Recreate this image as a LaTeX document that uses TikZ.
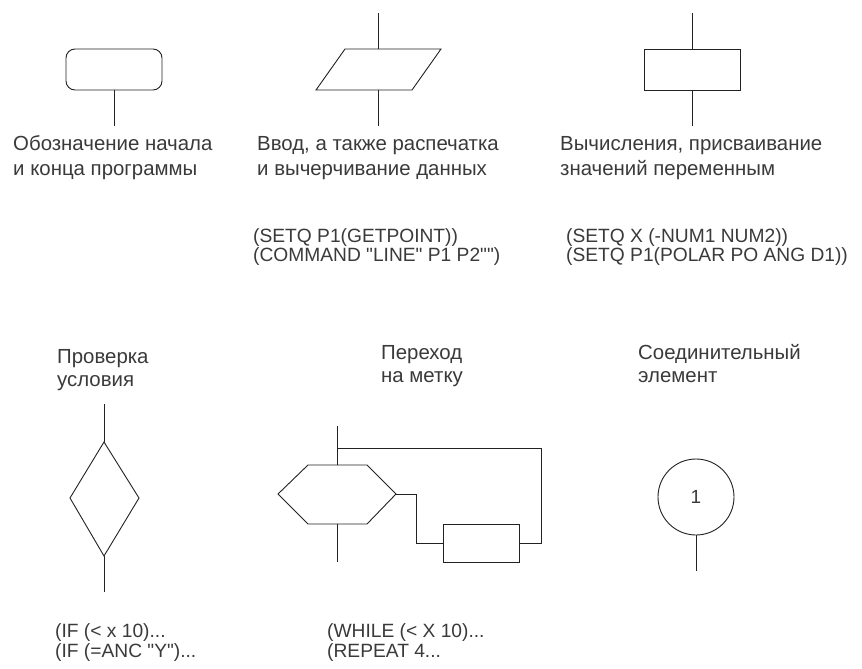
\documentclass[tikz,border=0pt]{standalone}
\usepackage{fontspec}
\setmainfont{Liberation Sans}[Ligatures=TeXOff]
\usetikzlibrary{shapes.geometric}
\definecolor{ink}{HTML}{222222}
\definecolor{txt}{HTML}{3A3A3A}
\begin{document}
\begin{tikzpicture}[x=1pt,y=-1pt,
  line/.style={draw=ink,line width=0.9pt},
  blk/.style={line,inner sep=0pt,minimum width=96pt,minimum height=41pt},
  lbl/.style={anchor=base west,inner sep=0pt,text=txt,font=\fontsize{20.4}{20.4}\selectfont},
  code/.style={anchor=base west,inner sep=0pt,text=txt,font=\fontsize{19.2}{19.2}\selectfont}]
\useasboundingbox[fill=white] (0,0) rectangle (862,669);

% --- terminator ---
\node[blk,rounded corners=9pt] (term) at (114,69.5) {};
\coordinate (termE) at (114,126);
\draw[line] (term.south) -- (termE);

% --- input / output (parallelogram) ---
\coordinate (ioT) at (378,13);
\coordinate (ioB) at (378,126);
\coordinate (io1) at (345,49);
\coordinate (io2) at (441,49);
\coordinate (io3) at (412,90);
\coordinate (io4) at (316,90);
\coordinate (ioN) at (378,49);
\coordinate (ioS) at (378,90);
\draw[line] (io1) -- (io2) -- (io3) -- (io4) -- cycle;
\draw[line] (ioT) -- (ioN);
\draw[line] (ioS) -- (ioB);

% --- process ---
\node[blk] (proc) at (692,69.5) {};
\coordinate (procT) at (692,13);
\coordinate (procB) at (692,126);
\draw[line] (procT) -- (proc.north);
\draw[line] (proc.south) -- (procB);

% --- captions, top row ---
\node[lbl] (t1a) at (13,150) {Обозначение начала};
\node[lbl] (t1b) at (13,175) {и конца программы};
\node[lbl] (t2a) at (257,150) {Ввод, а также распечатка};
\node[lbl] (t2b) at (257,175) {и вычерчивание данных};
\node[lbl] (t3a) at (560,150) {Вычисления, присваивание};
\node[lbl] (t3b) at (560,175) {значений переменным};

\node[code] (c2a) at (253,242) {(SETQ P1(GETPOINT))};
\node[code] (c2b) at (253,261.5) {(COMMAND "LINE" P1 P2"")};
\node[code] (c3a) at (566,242) {(SETQ X (-NUM1 NUM2))};
\node[code] (c3b) at (566,261.5) {(SETQ P1(POLAR PO ANG D1))};

% --- captions, bottom row ---
\node[lbl] (t4a) at (57,363) {Проверка};
\node[lbl] (t4b) at (57,386) {условия};
\node[lbl] (t5a) at (381,359) {Переход};
\node[lbl] (t5b) at (381,382) {на метку};
\node[lbl] (t6a) at (638,359) {Соединительный};
\node[lbl] (t6b) at (638,382) {элемент};

% --- decision ---
\coordinate (dN) at (104,442);
\coordinate (dW) at (70,498);
\coordinate (dE) at (139,498);
\coordinate (dS) at (104,556);
\coordinate (dT) at (104,404);
\coordinate (dB) at (104,592);
\draw[line] (dN) -- (dE) -- (dS) -- (dW) -- cycle;
\draw[line] (dT) -- (dN);
\draw[line] (dS) -- (dB);

% --- loop (hexagon) with body ---
\coordinate (h1) at (308,465);
\coordinate (h2) at (367,465);
\coordinate (hE) at (396,494);
\coordinate (h4) at (367,524);
\coordinate (h5) at (308,524);
\coordinate (hW) at (278,494);
\coordinate (hN) at (337,465);
\coordinate (hS) at (337,524);
\coordinate (hT) at (337,426);
\coordinate (hB) at (337,562);
\coordinate (hJ) at (337,448);
\draw[line] (h1) -- (h2) -- (hE) -- (h4) -- (h5) -- (hW) -- cycle;
\draw[line] (hT) -- (hN);
\draw[line] (hS) -- (hB);
\node[line,inner sep=0pt,minimum width=76pt,minimum height=38pt] (body) at (481,543) {};
\draw[line] (hE) -- (416,494) |- (body.west);
\draw[line] (body.east) -- (541,543) |- (hJ);

% --- connector ---
\node[line,circle,inner sep=0pt,minimum size=76pt,text=txt,font=\fontsize{19}{19}\selectfont] (conn) at (696,497) {1};
\coordinate (connB) at (696,571);
\draw[line] (conn.south) -- (connB);

% --- code samples, bottom row ---
\node[code] (c4a) at (55,637) {(IF (< x 10)...};
\node[code] (c4b) at (55,657) {(IF (=ANC "Y")...};
\node[code] (c5a) at (327,637) {(WHILE (< X 10)...};
\node[code] (c5b) at (327,657) {(REPEAT 4...};
\end{tikzpicture}
\end{document}
